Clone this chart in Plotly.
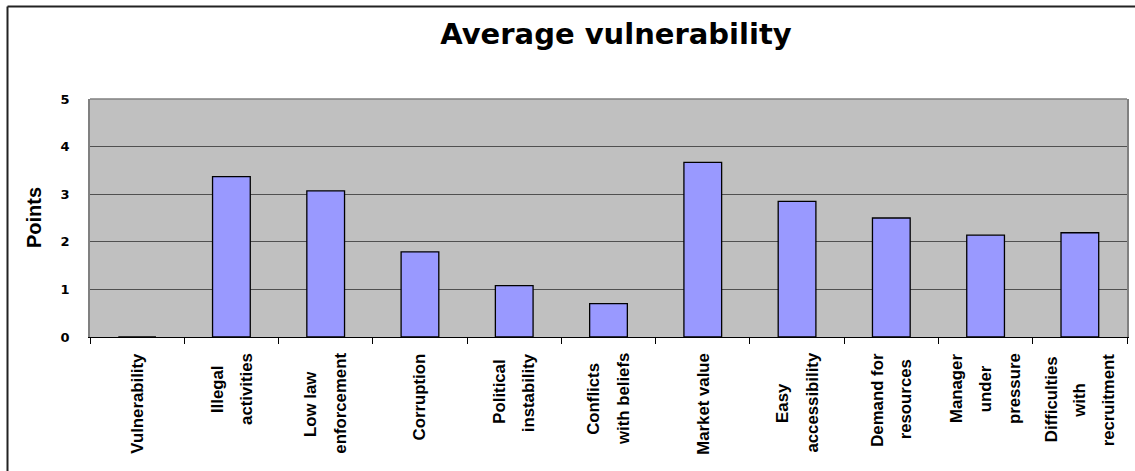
import plotly.graph_objects as go

# ---- data -------------------------------------------------------------
tick_labels = [
    "Vulnerability",
    "Illegal<br>activities",
    "Low law<br>enforcement",
    "Corruption",
    "Political<br>instability",
    "Conflicts<br>with beliefs",
    "Market value",
    "Easy<br>accessibility",
    "Demand for<br>resources",
    "Manager<br>under<br>pressure",
    "Difficulties<br>with<br>recruitment",
]
categories = [t.replace("<br>", " ") for t in tick_labels]
points = [0, 3.37, 3.07, 1.79, 1.08, 0.70, 3.67, 2.85, 2.50, 2.14, 2.19]
y_ticks = [0, 1, 2, 3, 4, 5]

# ---- geometry ---------------------------------------------------------
W, H = 1135, 471
L, R, T, B = 90, 8, 99, 134
PW, PH = W - L - R, H - T - B

ARIAL = "Liberation Sans, Arial, sans-serif"
WIDE = "DejaVu Sans, sans-serif"
LABEL_SIZE = 16.8
LINE_STEP = 29  # px between stacked label lines

# Arial Bold advance widths (1/1000 em) used to centre stacked label lines
BOLD_W = {
    " ": 278, "a": 556, "b": 611, "c": 556, "d": 611, "e": 556, "f": 333,
    "g": 611, "h": 611, "i": 278, "k": 556, "l": 278, "m": 889, "n": 611,
    "o": 611, "p": 611, "r": 389, "s": 556, "t": 333, "u": 611, "v": 556,
    "w": 778, "y": 556, "C": 722, "D": 722, "E": 667, "I": 278, "L": 611,
    "M": 833, "P": 667, "V": 667,
}


def text_width(s, size):
    return sum(BOLD_W.get(ch, 556) for ch in s) / 1000.0 * size


fig = go.Figure(
    go.Bar(
        x=categories,
        y=points,
        marker=dict(color="#9999FF", line=dict(color="#000000", width=1.3)),
        width=0.4,
    )
)

annotations = []
for cat, lab in zip(categories, tick_labels):
    lines = lab.split("<br>")
    widths = [text_width(s, LABEL_SIZE) for s in lines]
    mw = max(widths)
    n = len(lines)
    for i, (s, w) in enumerate(zip(lines, widths)):
        annotations.append(
            dict(
                x=cat, y=0, xref="x", yref="paper",
                text=s, textangle=-90, showarrow=False,
                xanchor="center", yanchor="top",
                xshift=(i - (n - 1) / 2) * LINE_STEP,
                yshift=-(14 + (mw - w) / 2),
                font=dict(family=ARIAL, size=LABEL_SIZE, color="#000000", weight="bold"),
            )
        )

annotations.append(
    dict(
        x=0, y=0.5, xref="paper", yref="paper", xshift=-56,
        text="Points", textangle=-90, showarrow=False,
        xanchor="center", yanchor="middle",
        font=dict(family=ARIAL, size=20, color="#000000", weight="bold"),
    )
)

frame_left = (7.5 - L) / PW
frame_top = 1 + (T - 6.5) / PH
shapes = [
    # top edge of the plot area
    dict(type="line", xref="paper", yref="paper", x0=0, x1=1, y0=1, y1=1,
         line=dict(color="#808080", width=1.5)),
    # chart frame: top and left sides (the others run off the page)
    dict(type="line", xref="paper", yref="paper",
         x0=frame_left, x1=(W - L) / PW, y0=frame_top, y1=frame_top,
         line=dict(color="#222222", width=2)),
    dict(type="line", xref="paper", yref="paper",
         x0=frame_left, x1=frame_left, y0=frame_top, y1=-B / PH,
         line=dict(color="#222222", width=2)),
]

fig.update_layout(
    width=W, height=H,
    margin=dict(l=L, r=R, t=T, b=B, autoexpand=False),
    paper_bgcolor="#FFFFFF",
    plot_bgcolor="#C0C0C0",
    showlegend=False,
    bargap=0.6,
    title=dict(
        text="<b>Average vulnerability</b>",
        x=616 / W, xref="container", xanchor="center",
        y=1 - 34 / H, yref="container", yanchor="middle",
        font=dict(family=WIDE, size=29, color="#000000"),
    ),
    xaxis=dict(
        type="category",
        range=[-0.5, len(categories) - 0.5],
        showticklabels=False,
        ticks="outside", tickson="boundaries", ticklen=6,
        tickcolor="#000000", tickwidth=1,
        showline=True, linecolor="#000000", linewidth=1.2,
        showgrid=False, zeroline=False,
    ),
    yaxis=dict(
        range=[0, 5],
        tickvals=y_ticks,
        ticktext=["<b>%d</b>" % v for v in y_ticks],
        tickfont=dict(family=WIDE, size=13, color="#000000"),
        ticks="", ticklabelstandoff=16,
        showline=True, linecolor="#808080", linewidth=1.5, mirror=True,
        showgrid=True, gridcolor="#505050", gridwidth=1,
        zeroline=False,
    ),
    annotations=annotations,
    shapes=shapes,
)

fig.write_html("out.html")
